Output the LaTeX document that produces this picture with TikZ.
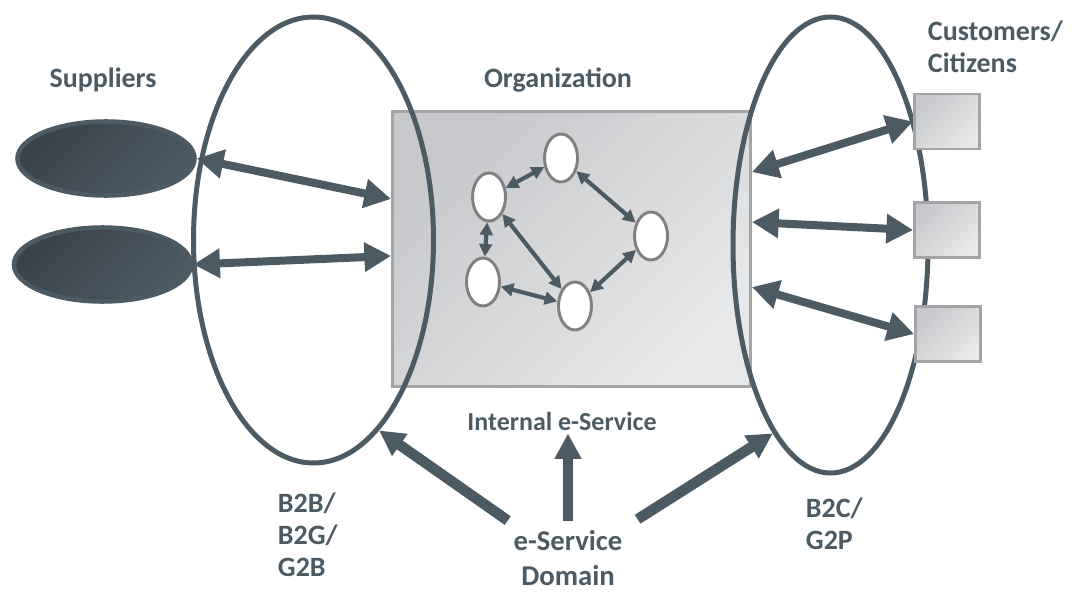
\documentclass[tikz,border=0pt]{standalone}
\usepackage{fontspec}
\setmainfont{Carlito}
\usetikzlibrary{arrows.meta,shapes.geometric,calc}

\definecolor{slate}{RGB}{76,90,100}
\definecolor{slatedark}{RGB}{58,66,75}
\definecolor{boxedge}{RGB}{163,164,166}
\definecolor{boxdark}{RGB}{198,200,203}
\definecolor{boxlight}{RGB}{231,232,233}
\definecolor{ringgray}{RGB}{128,128,128}

\tikzset{every picture/.style={line width=0.9pt}}
\tikzset{
  lbl/.style={text=slate, inner sep=1pt, font=\fontsize{21}{24}\selectfont\bfseries},
  sector/.style={ellipse, draw=slate, line width=3.75pt, inner sep=0pt},
  party/.style={ellipse, draw=slate, line width=3.4pt, top color=slatedark, bottom color=slate, shading angle=45, minimum width=132.75pt, minimum height=55.5pt, inner sep=0pt},
  client/.style={rectangle, draw=boxedge, line width=2.2pt, top color=boxdark, bottom color=boxlight, shading angle=45, minimum width=48.75pt, minimum height=41.25pt, inner sep=0pt},
  unit/.style={ellipse, draw=ringgray, line width=2.2pt, fill=white, minimum width=24.75pt, minimum height=36pt, inner sep=0pt},
  flow/.style={draw=slate, line width=3.1pt, {Triangle[length=9.5pt,width=9.5pt]}-{Triangle[length=9.5pt,width=9.5pt]}},
  link/.style={draw=slate, line width=6pt, {Triangle[length=20pt,width=21pt]}-{Triangle[length=20pt,width=21pt]}},
  push/.style={draw=slate, line width=7.9pt, -{Triangle[length=19pt,width=19pt]}}
}

\begin{document}
\begin{tikzpicture}[x=0.75pt,y=0.75pt,yscale=-1]
\useasboundingbox (0,0) rectangle (1073,592);

%Shape: Rectangle [organization]
\node [client, minimum width=268.5pt, minimum height=206.25pt] (org) at (571.5,249) {};

%Shape: Ellipse [business domains]
\node [sector, minimum width=180pt, minimum height=334.5pt] (b2b) at (313.5,240) {};
\node [sector, minimum width=146.25pt, minimum height=342pt] (b2c) at (830.5,245) {};

%Shape: Ellipse [suppliers]
\node [party] (sup1) at (106,158.5) {};
\node [party] (sup2) at (102.5,264.5) {};

%Shape: Rectangle [customers]
\node [client] (cus1) at (947,121.5) {};
\node [client] (cus2) at (947,230) {};
\node [client] (cus3) at (948,334) {};

%Shape: Ellipse [internal units]
\node [unit] (u1) at (489,197) {};
\node [unit] (u2) at (561,158) {};
\node [unit] (u3) at (651,236) {};
\node [unit] (u4) at (483,282) {};
\node [unit] (u5) at (575,306) {};

%Straight Lines [internal flows]
\draw [flow] (u1) -- (u2);
\draw [flow] (u2) -- (u3);
\draw [flow] (u1) -- (u4);
\draw [flow] (u1) -- (u5);
\draw [flow] (u4) -- (u5);
\draw [flow] (u5) -- (u3);

%Straight Lines [suppliers <-> organization]
\draw [link] (sup1.east) -- ($(org.north west)!0.32!(org.south west)$);
\draw [link] (sup2.east) -- ($(org.north west)!0.525!(org.south west)$);
%Straight Lines [organization <-> customers]
\draw [link] ($(org.north east)!0.223!(org.south east)$) -- (cus1.west);
\draw [link] ($(org.north east)!0.403!(org.south east)$) -- (cus2.west);
\draw [link] ($(org.north east)!0.637!(org.south east)$) -- (cus3.west);

% Text Node
\node [lbl] (supl) at (103,80) {Suppliers};
% Text Node
\node [lbl] (orgl) at (558,80) {Organization};
% Text Node
\node [lbl, anchor=west, align=left] (cusl) at (926,47) {Customers/\\Citizens};
% Text Node
\node [lbl, anchor=west, align=left] (b2bl) at (276,535) {B2B/\\B2G/\\G2B};
% Text Node
\node [lbl, anchor=west, align=left] (b2cl) at (804,524) {B2C/\\G2P};
% Text Node
\node [lbl, inner sep=2pt, font=\fontsize{19.5}{23}\selectfont\bfseries] (internal) at (562,421) {Internal e-Service};
% Text Node
\node [lbl, align=center, inner sep=1pt, font=\fontsize{21.5}{26}\selectfont\bfseries] (esd) at (568,558) {e-Service\\Domain};

%Straight Lines [domain arrows] (yscale=-1 flips the shifts: negative is up)
\draw [push] ([shift={(-3pt,-6pt)}]esd.north west) -- (b2b.-71);
\draw [push] ([yshift=-6pt]esd.north) -- (esd.north |- internal.south);
\draw [push] ([shift={(10pt,-7pt)}]esd.north east) -- (b2c.-107);

\end{tikzpicture}
\end{document}
